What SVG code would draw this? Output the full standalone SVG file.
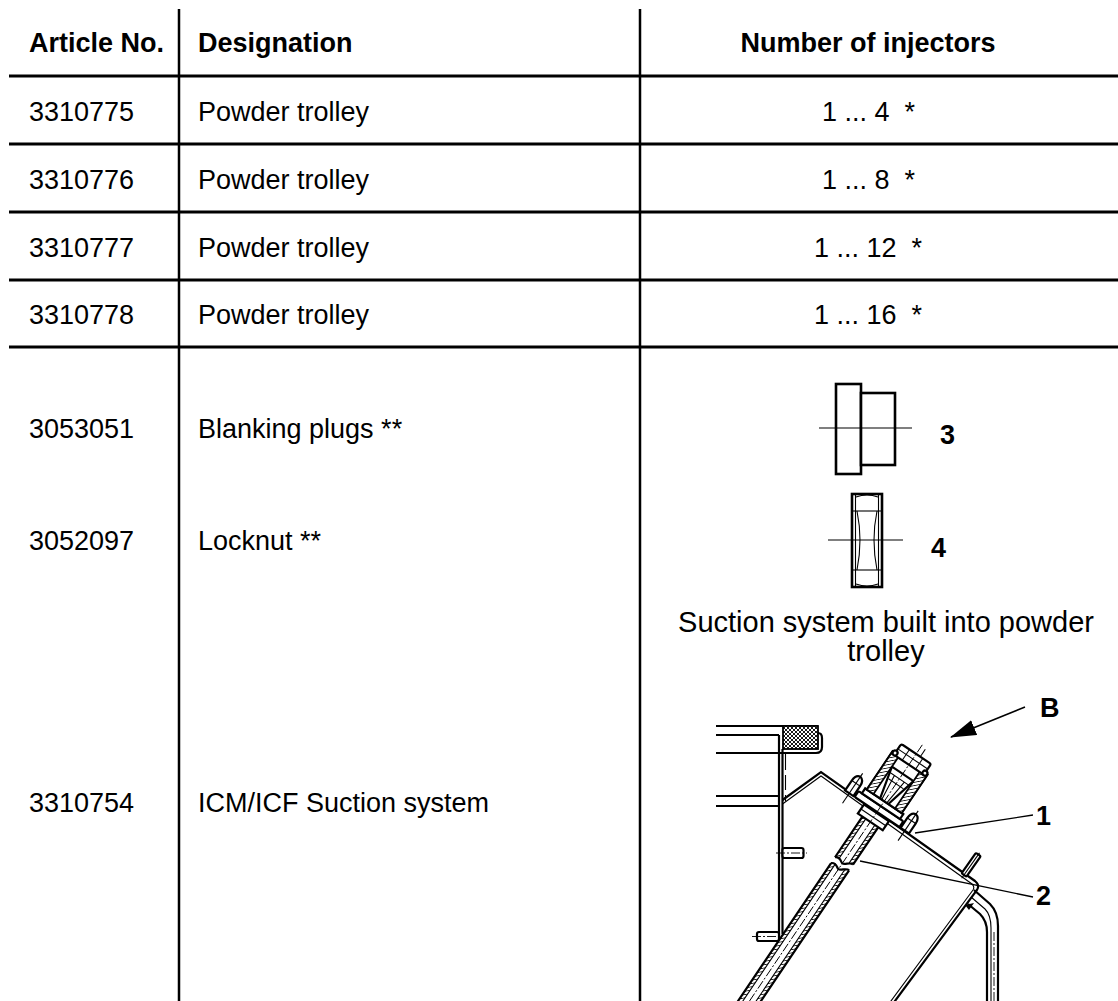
<svg xmlns="http://www.w3.org/2000/svg" width="1118" height="1001" viewBox="0 0 1118 1001">
<style>
text{font-family:"Liberation Sans",Arial,sans-serif;font-size:27px;fill:#000}
.b{font-weight:bold}
.grid{stroke:#000;fill:none}
.h{stroke-width:3}
.v{stroke-width:2.5}
.k{stroke:#000;fill:none;stroke-width:2.2}
.kw{stroke:#000;fill:#fff;stroke-width:2.2}
.p{stroke:#000;fill:#fff;stroke-width:2.6}
.t{stroke:#000;fill:none;stroke-width:1.1}
.cl{stroke:#000;fill:none;stroke-width:0.9;stroke-dasharray:9 2 2 2}
</style>
<defs>
<pattern id="hatch" width="3.2" height="3.2" patternUnits="userSpaceOnUse" patternTransform="rotate(45)">
<rect width="3.2" height="3.2" fill="#fff"/>
<line x1="0" y1="0" x2="0" y2="3.2" stroke="#000" stroke-width="1.5"/>
</pattern>
<pattern id="xhatch" width="4" height="4" patternUnits="userSpaceOnUse">
<rect width="4" height="4" fill="#fff"/>
<path d="M0 0 L4 4 M4 0 L0 4" stroke="#000" stroke-width="0.9"/>
</pattern>
<marker id="arr" markerWidth="26" markerHeight="16" refX="25" refY="8" orient="auto" markerUnits="userSpaceOnUse">
<path d="M0 0 L26 8 L0 16 Z" fill="#000"/>
</marker>
</defs>
<rect width="1118" height="1001" fill="#fff"/>

<g id="grid" class="grid">
<line class="h" x1="9" y1="76" x2="1118" y2="76"/>
<line class="h" x1="9" y1="144" x2="1118" y2="144"/>
<line class="h" x1="9" y1="212" x2="1118" y2="212"/>
<line class="h" x1="9" y1="280" x2="1118" y2="280"/>
<line class="h" x1="9" y1="347" x2="1118" y2="347"/>
<line class="v" x1="179" y1="9" x2="179" y2="1001"/>
<line class="v" x1="640" y1="9" x2="640" y2="1001"/>
</g>

<g id="header">
<text class="b" x="29" y="52">Article No.</text>
<text class="b" x="198" y="52">Designation</text>
<text class="b" x="868" y="52" text-anchor="middle">Number of injectors</text>
</g>
<g id="row1">
<text x="29" y="121">3310775</text>
<text x="198" y="121">Powder trolley</text>
<text x="822" y="121" xml:space="preserve">1 ... 4  *</text>
</g>
<g id="row2">
<text x="29" y="189">3310776</text>
<text x="198" y="189">Powder trolley</text>
<text x="822" y="189" xml:space="preserve">1 ... 8  *</text>
</g>
<g id="row3">
<text x="29" y="257">3310777</text>
<text x="198" y="257">Powder trolley</text>
<text x="814" y="257" xml:space="preserve">1 ... 12  *</text>
</g>
<g id="row4">
<text x="29" y="324">3310778</text>
<text x="198" y="324">Powder trolley</text>
<text x="814" y="324" xml:space="preserve">1 ... 16  *</text>
</g>
<g id="row5">
<text x="29" y="438">3053051</text>
<text x="198" y="438">Blanking plugs **</text>
<text x="29" y="550">3052097</text>
<text x="198" y="550">Locknut **</text>
<text x="29" y="812">3310754</text>
<text x="198" y="812">ICM/ICF Suction system</text>
</g>

<g id="plug">
<rect class="p" x="836" y="384" width="25" height="90"/>
<rect class="p" x="861" y="393" width="34" height="72"/>
<line class="t" x1="819" y1="428" x2="912" y2="428"/>
<text class="b" x="940" y="444">3</text>
</g>

<g id="locknut">
<rect class="p" x="852" y="494" width="30" height="93"/>
<line class="t" x1="855.5" y1="495" x2="855.5" y2="586"/>
<line class="t" x1="878.5" y1="495" x2="878.5" y2="586"/>
<line class="t" x1="853" y1="511" x2="881" y2="511"/>
<line class="t" x1="853" y1="570" x2="881" y2="570"/>
<path class="t" d="M857 511 Q863 540 857 570 M877 511 Q871 540 877 570"/>
<path class="t" d="M856 497 Q867 493 878 497 M856 584 Q867 588 878 584"/>
<line class="t" x1="828" y1="540" x2="903" y2="540"/>
<text class="b" x="931" y="557">4</text>
</g>

<g id="suction-title">
<text x="886" y="632" text-anchor="middle" style="font-size:29px">Suction system built into powder</text>
<text x="886" y="661" text-anchor="middle" style="font-size:29px">trolley</text>
</g>

<g id="suction-drawing">
<line class="k" x1="716" y1="726" x2="818" y2="726"/>
<line class="k" x1="716" y1="735" x2="779" y2="735"/>
<path class="k" d="M716 753 L816 753 Q822 753 822 747 L822 738 Q822 733 818 733"/>
<rect x="783" y="726" width="35" height="23" fill="url(#xhatch)" stroke="#000" stroke-width="1.8"/>
<line class="k" x1="716" y1="796" x2="779" y2="796"/>
<line class="k" x1="716" y1="806" x2="779" y2="806"/>
<line class="k" x1="779" y1="735" x2="779" y2="937"/>
<line class="k" x1="782.5" y1="749" x2="782.5" y2="934"/>
<path class="t" d="M785.5 753 L785.5 770 M785.5 775 L785.5 790 M785.5 795 L785.5 801"/>
<rect class="kw" x="782.5" y="848" width="21" height="10" rx="2"/>
<line class="cl" x1="776" y1="853" x2="807" y2="853"/>
<rect class="kw" x="757" y="932" width="22" height="9" rx="2"/>
<line class="cl" x1="752" y1="936.5" x2="784" y2="936.5"/>
<path class="k" d="M782.5 800 L821 772 L975 881 Q980 885 977 890 L892 1005"/>
<path class="t" d="M782.5 804 L821 776 L972 884 Q975 887 973 890 L888 1005"/>
<g transform="translate(964,875) rotate(35)">
<rect class="kw" x="-3" y="-25" width="6" height="25" rx="1.5"/>
<line class="t" x1="0" y1="-27" x2="0" y2="4"/>
</g>
<path class="k" d="M974 890 L990 904 Q998 912 998 926 L998 1005"/>
<path class="t" d="M971 897 L985 909 Q991 915 991 928 L991 1005"/>
<path class="k" d="M968 904 L980 914 Q987 921 987 932 L987 1005"/>
<line class="cl" x1="994" y1="932" x2="994" y2="1001"/>
<path d="M965 905 L974 903 L969 910 Z" fill="#000"/>
<g id="fitting" transform="translate(877,812) rotate(34)">
<rect x="-9.5" y="12" width="4" height="48" fill="url(#hatch)"/>
<rect x="5.5" y="12" width="4" height="46" fill="url(#hatch)"/>
<rect x="-9.5" y="68" width="4" height="180" fill="url(#hatch)"/>
<rect x="5.5" y="66" width="4" height="180" fill="url(#hatch)"/>
<path class="k" d="M-9.5 12 L-9.5 61 M9.5 12 L9.5 57"/>
<path class="k" d="M-9.5 61 C-5 57 -2 62 0 62 C3 62 6 56 9.5 57"/>
<path class="t" d="M-5.5 12 L-5.5 60 M5.5 12 L5.5 58"/>
<path class="k" d="M-9.5 68 C-5 64 -2 69 0 69 C3 69 6 63 9.5 64"/>
<path class="k" d="M-9.5 68 L-9.5 250 M9.5 64 L9.5 250"/>
<path class="t" d="M-5.5 66 L-5.5 250 M5.5 65 L5.5 250"/>
<rect class="kw" x="-15" y="1" width="30" height="11"/>
<line class="t" x1="-15" y1="6.5" x2="15" y2="6.5"/>
<rect class="kw" x="-27" y="-7" width="54" height="7" rx="1.5"/>
<rect class="kw" x="-23" y="-13" width="46" height="6"/>
<rect class="kw" x="-21" y="-59" width="42" height="46"/>
<rect x="-21" y="-59" width="8" height="46" fill="url(#hatch)" stroke="#000" stroke-width="1.8"/>
<rect x="13" y="-59" width="8" height="46" fill="url(#hatch)" stroke="#000" stroke-width="1.8"/>
<path class="k" d="M-13 -46 L-5 -13 M13 -46 L5 -13 M-13 -46 L13 -46"/>
<path class="t" d="M-13 -40 L13 -40 M-9 -34 L9 -34 M-6 -40 L-3 -13 M6 -40 L3 -13"/>
<rect class="kw" x="-18" y="-70" width="36" height="13" rx="2"/>
<line class="t" x1="-18" y1="-64" x2="18" y2="-64"/>
<line class="t" x1="-8" y1="-70" x2="-8" y2="-57"/>
<line class="t" x1="8" y1="-70" x2="8" y2="-57"/>
<circle class="kw" cx="-18" cy="-59" r="2.5"/>
<circle class="kw" cx="18" cy="-59" r="2.5"/>
<line class="t" x1="5" y1="-70" x2="5" y2="-79"/>
<line class="cl" x1="0" y1="-81" x2="0" y2="250"/>
<path class="kw" d="M-38.5 0 L-38.5 -12 Q-38.5 -19 -33.5 -20 Q-28.5 -19 -28.5 -12 L-28.5 0 Z"/>
<line class="t" x1="-38.5" y1="-12" x2="-28.5" y2="-12"/>
<line class="t" x1="-33.5" y1="-24" x2="-33.5" y2="12"/>
<path class="kw" d="M28.5 0 L28.5 -12 Q28.5 -19 33.5 -20 Q38.5 -19 38.5 -12 L38.5 0 Z"/>
<line class="t" x1="28.5" y1="-12" x2="38.5" y2="-12"/>
<line class="t" x1="33.5" y1="-24" x2="33.5" y2="12"/>
</g>
</g>

<g id="connectors">
<line x1="1025" y1="707" x2="951" y2="737" stroke="#000" stroke-width="1.5" marker-end="url(#arr)"/>
<line class="t" x1="1033" y1="815" x2="915" y2="833" style="stroke-width:1.3"/>
<line class="t" x1="1033" y1="897" x2="860" y2="861" style="stroke-width:1.3"/>
</g>
<g id="labels">
<text class="b" x="1040" y="717">B</text>
<text class="b" x="1036" y="825">1</text>
<text class="b" x="1036" y="905">2</text>
</g>
</svg>
